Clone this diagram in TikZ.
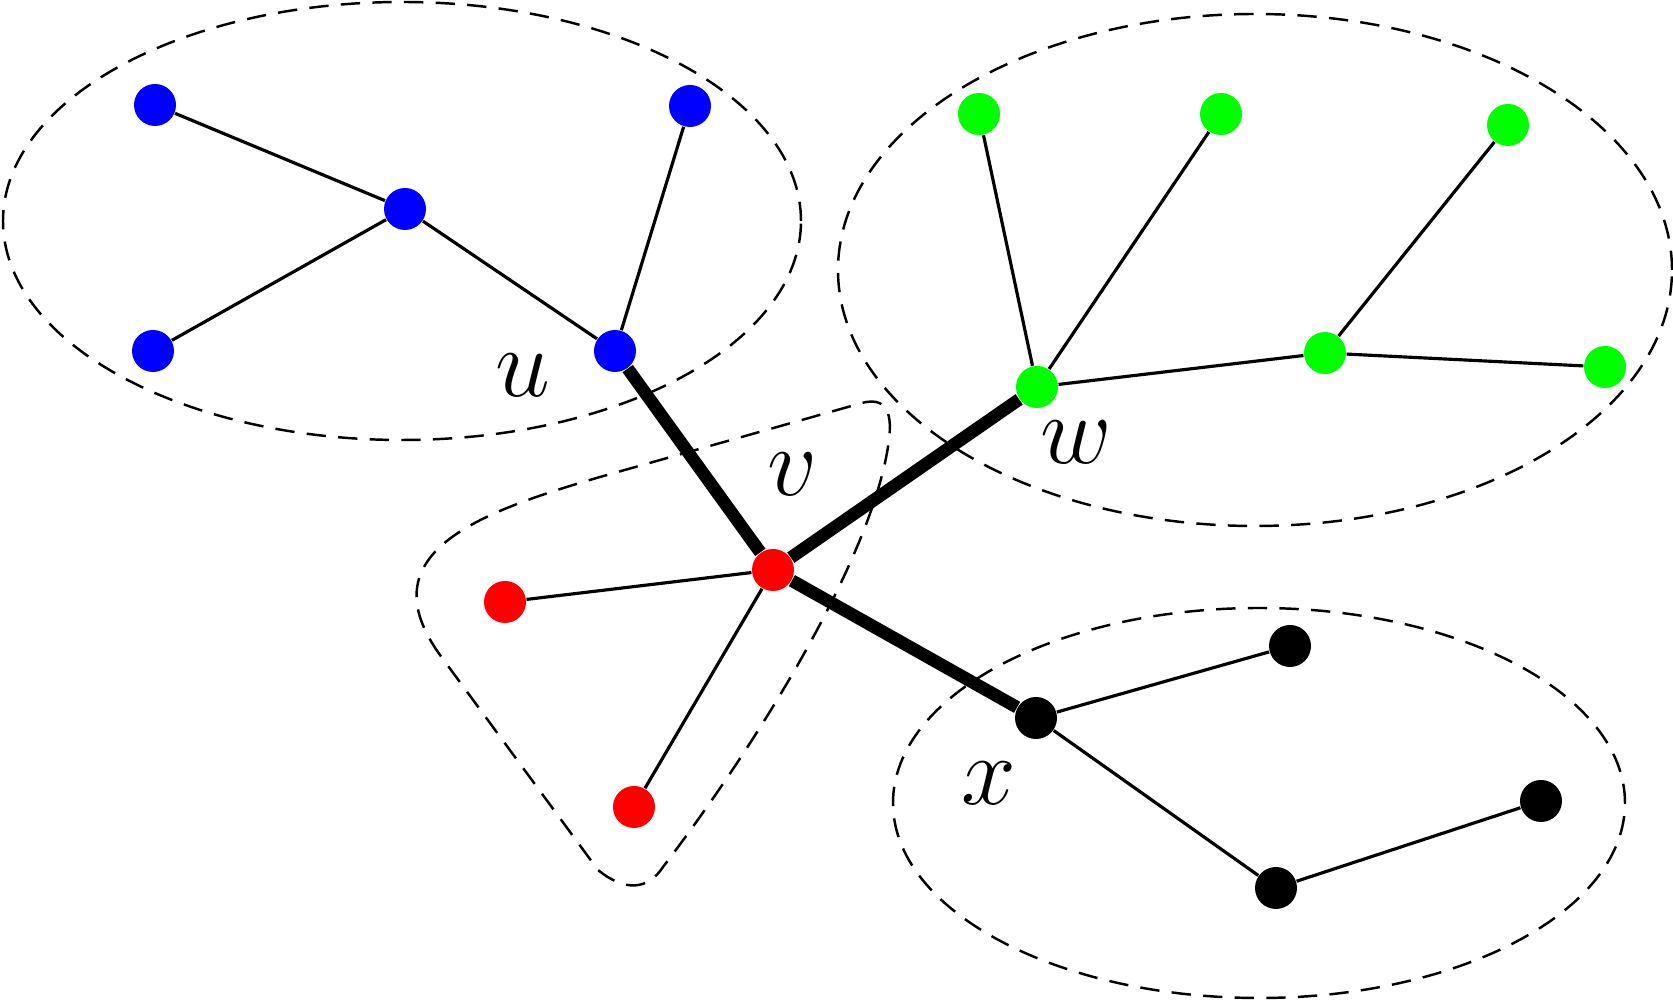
\RequirePackage{fix-cm}
\documentclass[tikz,border=0pt]{standalone}
\usepackage{amsmath}
\usepackage{xcolor}
\usepackage{tikz}
\usetikzlibrary{positioning, calc}

\begin{document}
\begin{tikzpicture}[
      font=\fontsize{28}{34}\selectfont,
      dot/.style={circle, inner sep=0pt, minimum size=4.2mm},
      link/.style={line width=0.9pt},
      spine/.style={line width=3.6pt},
      grp/.style={line width=0.7pt, dash pattern=on 5.5pt off 3.5pt}
    ]
    \useasboundingbox (0,0) rectangle (16.73,-10);
    %% groups
    \draw[grp] (4.02,-2.21) ellipse [x radius=3.99, y radius=2.19];
    \draw[grp] (12.55,-2.70) ellipse [x radius=4.17, y radius=2.56];
    \draw[grp] (12.59,-8.03) ellipse [x radius=3.66, y radius=1.95];
    \draw[grp] (4.40,-6.55) .. controls (3.675,-5.54) and (4.75,-5.134) .. (6.00,-4.77)
      -- (8.62,-4.03) .. controls (8.92,-3.95) and (8.92,-4.22) .. (8.88,-4.47)
      .. controls (8.70,-5.60) and (7.60,-7.40) .. (6.63,-8.67)
      .. controls (6.48,-8.90) and (6.25,-8.92) .. (5.98,-8.70) -- cycle;
    %% u part
    \node[dot, fill=blue] (ua) at (1.55,-1.05) {};
    \node[dot, fill=blue] (ub) at (4.05,-2.09) {};
    \node[dot, fill=blue] (uc) at (1.53,-3.51) {};
    \node[dot, fill=blue] (ud) at (6.90,-1.06) {};
    \node[dot, fill=blue] (u)  at (6.15,-3.51) {};
    \draw[link] (ua) -- (ub);
    \draw[link] (ub) -- (uc);
    \draw[link] (ub) -- (u);
    \draw[link] (ud) -- (u);
    \node (lu) at (5.23,-3.75) {$u$};
    %% v part
    \node[dot, fill=red] (v)  at (7.73,-5.70) {};
    \node[dot, fill=red] (va) at (5.05,-6.02) {};
    \node[dot, fill=red] (vb) at (6.34,-8.07) {};
    \draw[link] (v) -- (va);
    \draw[link] (v) -- (vb);
    \node (lv) at (7.93,-4.74) {$v$};
    %% w part
    \node[dot, fill=green] (w)  at (10.37,-3.87) {};
    \node[dot, fill=green] (wa) at (9.79,-1.14) {};
    \node[dot, fill=green] (wb) at (12.21,-1.14) {};
    \node[dot, fill=green] (wc) at (13.25,-3.53) {};
    \node[dot, fill=green] (wd) at (15.08,-1.25) {};
    \node[dot, fill=green] (we) at (16.05,-3.67) {};
    \draw[link] (w) -- (wa);
    \draw[link] (w) -- (wb);
    \draw[link] (w) -- (wc);
    \draw[link] (wc) -- (wd);
    \draw[link] (wc) -- (we);
    \node (lw) at (10.76,-4.42) {$w$};
    %% x part
    \node[dot, fill=black] (x)  at (10.36,-7.18) {};
    \node[dot, fill=black] (xa) at (12.90,-6.46) {};
    \node[dot, fill=black] (xb) at (12.76,-8.88) {};
    \node[dot, fill=black] (xc) at (15.41,-8.01) {};
    \draw[link] (x) -- (xa);
    \draw[link] (x) -- (xb);
    \draw[link] (xb) -- (xc);
    \node (lx) at (9.89,-7.83) {$x$};
    %% heavy edges
    \draw[spine] (u) -- (v);
    \draw[spine] (v) -- (w);
    \draw[spine] (v) -- (x);
  \end{tikzpicture}
\end{document}
